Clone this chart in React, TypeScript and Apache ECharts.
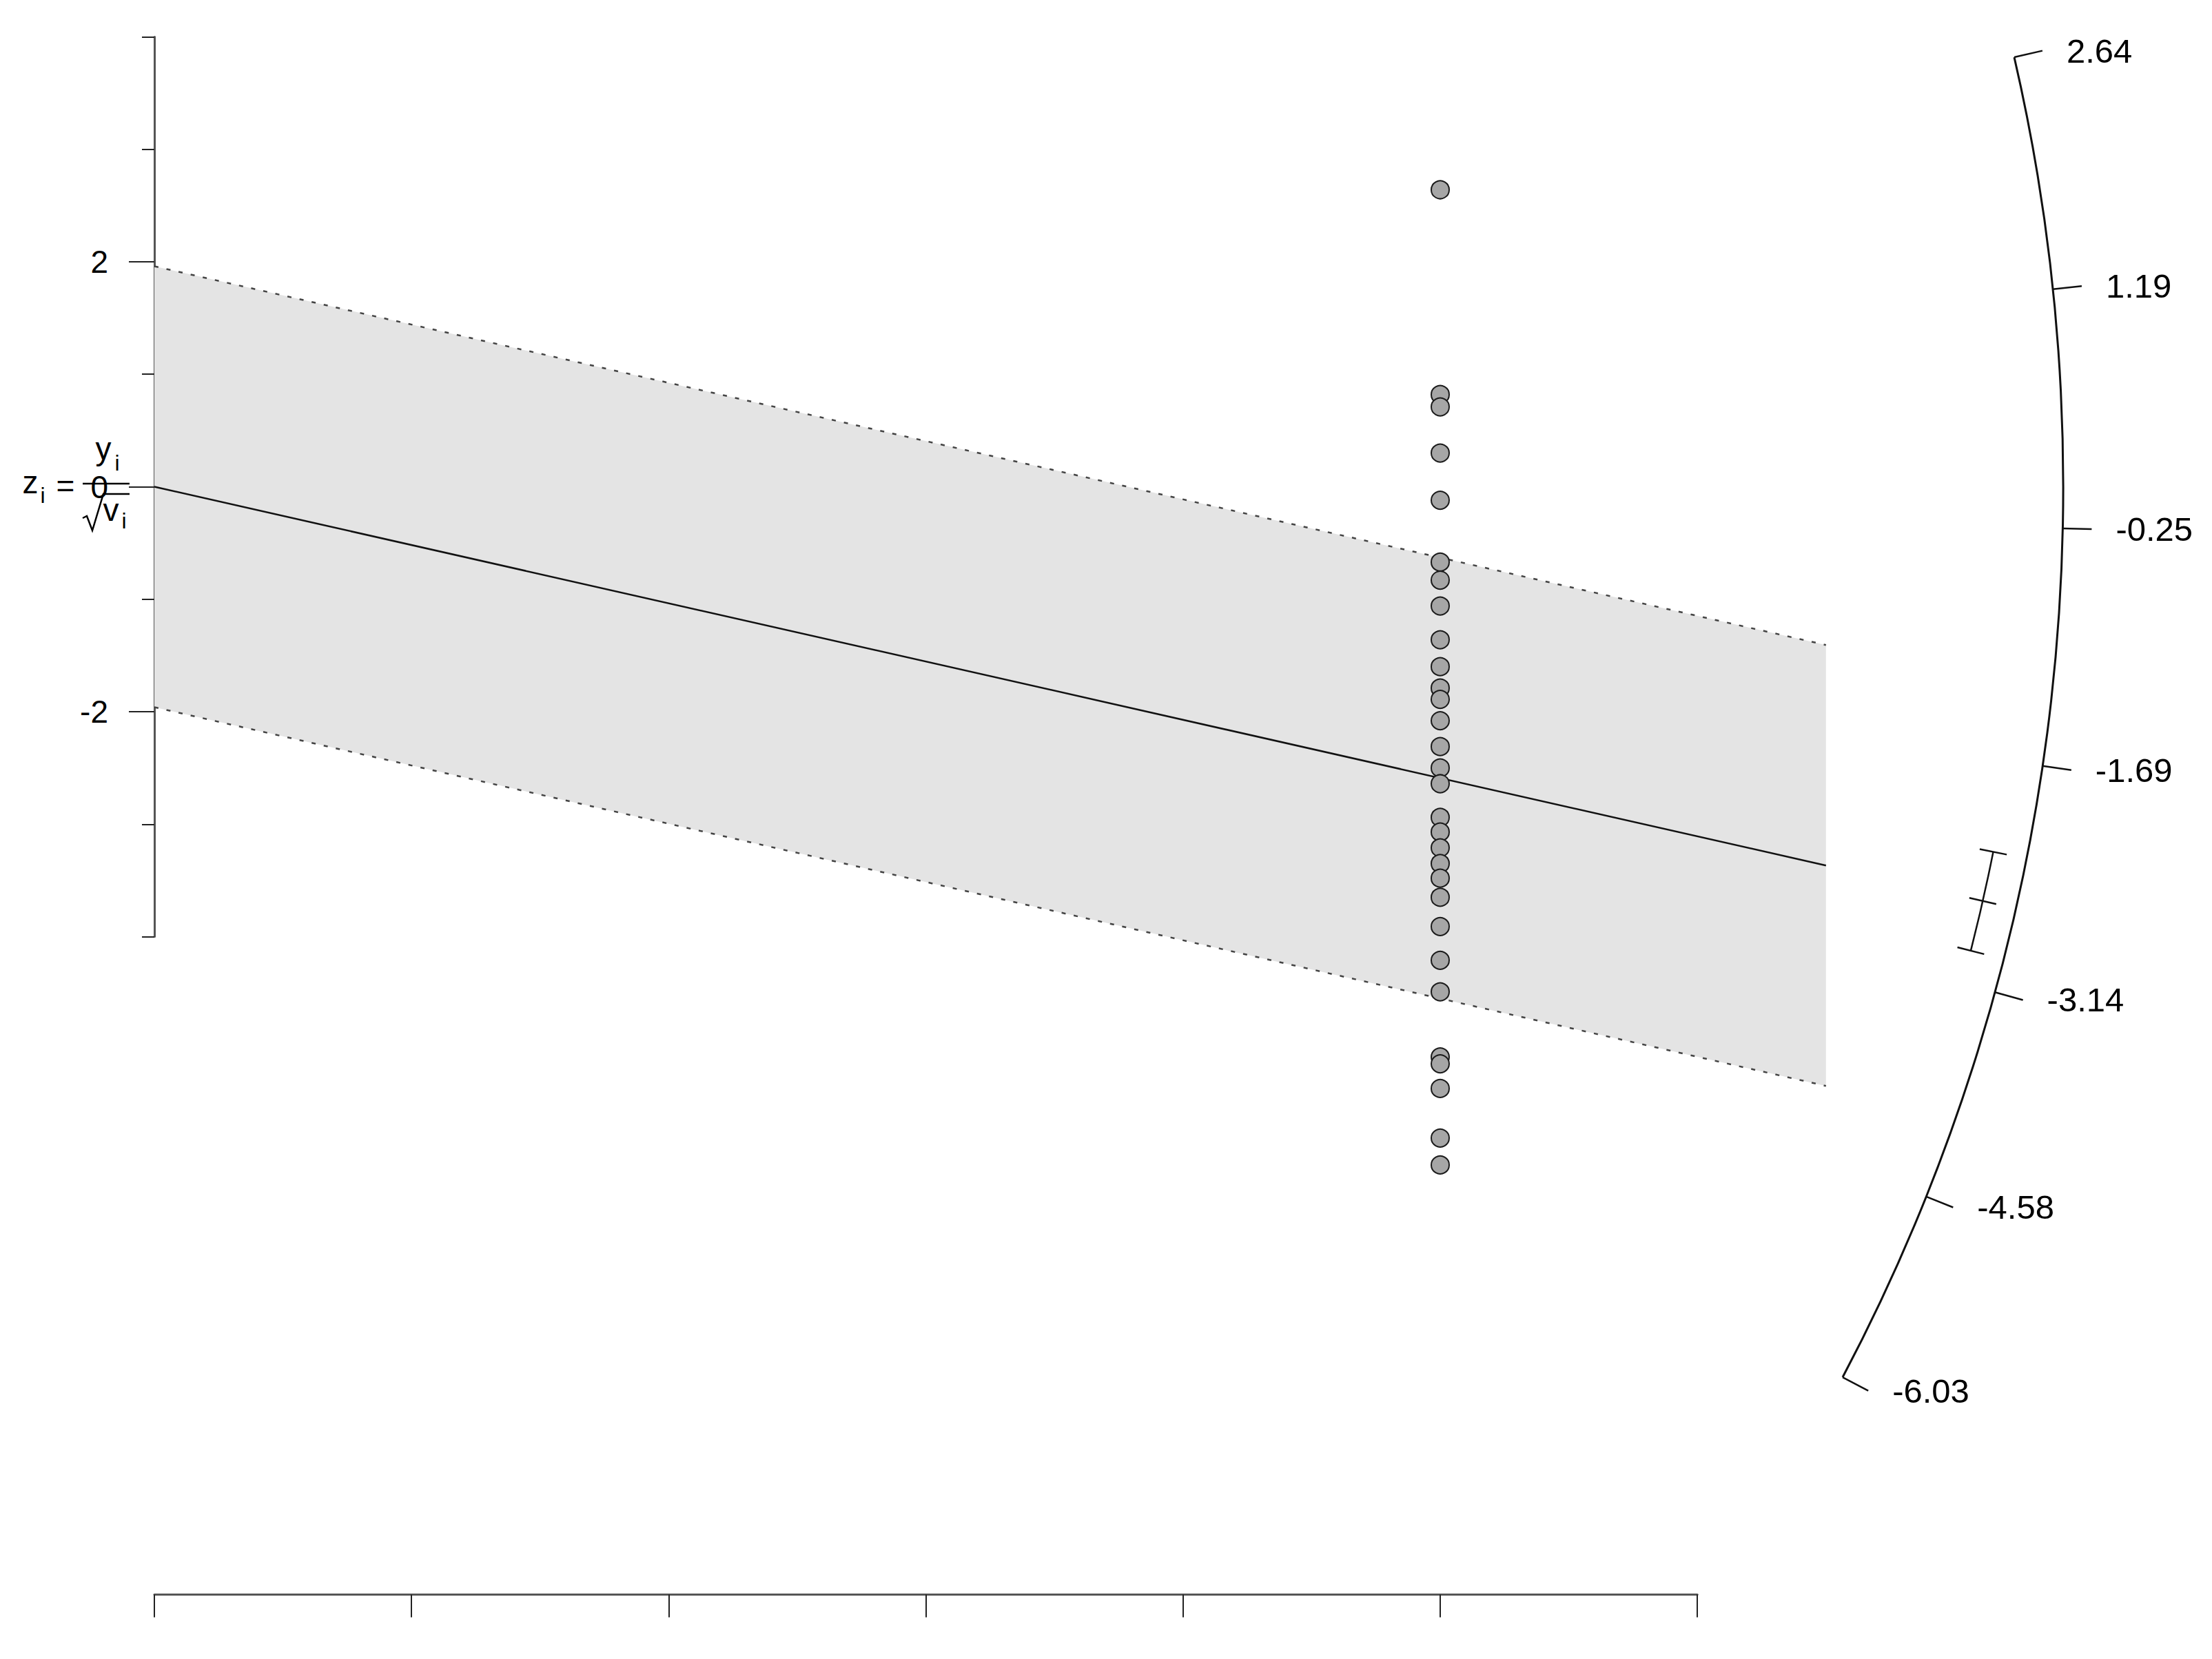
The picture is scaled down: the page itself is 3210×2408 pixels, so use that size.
import React, { useEffect, useRef } from "react";
import * as echarts from "echarts";

// ---- data ----
const STUDY_Z = [
  2.64, 0.82, 0.71, 0.3, -0.12, -0.67, -0.83, -1.06, -1.36, -1.6,
  -1.79, -1.89, -2.08, -2.31, -2.5, -2.64, -2.94, -3.07, -3.21, -3.35,
  -3.48, -3.65, -3.91, -4.21, -4.49, -5.07, -5.13, -5.35, -5.79, -6.03,
];
const STUDY_X = [
  1, 1, 1, 1, 1, 1, 1, 1, 1, 1,
  1, 1, 1, 1, 1, 1, 1, 1, 1, 1,
  1, 1, 1, 1, 1, 1, 1, 1, 1, 1,
];
const ESTIMATE = -2.59;
const CI_LOWER = -2.92;
const CI_UPPER = -2.27;
const Z_CRIT = 1.96;
const X_MAX = 1.3;
const X_TICK_MAX = 1.2;
const X_TICK_STEP = 0.2;
const ARC_TICKS = [-6.03, -4.58, -3.14, -1.69, -0.25, 1.19, 2.64];
const Y_LABEL_MIN = -2;
const Y_LABEL_MAX = 2;
const Y_LABEL_STEP = 2;
const Y_AXIS_MIN = -4;
const Y_AXIS_MAX = 4;

// ---- layout (pixels) ----
const ORIGIN_X = 224;
const ORIGIN_Y = 706.5;
const PX_PER_X = 1866;
const PX_PER_Z = 163.26;
const Z_TOP = 4;
const Z_BOTTOM = -9.85;
const ARC_RADIUS = 1.4845; // in x units
const CI_RADIUS = 1.458; // in x units
const ARC_TICK_LEN = 42;
const ARC_LABEL_GAP = 35;
const CI_CAP = 20;
const FONT = "'Liberation Sans', Arial, Helvetica, sans-serif";
const FS = 46;
const FS_ARC = 49;
const FS_SUB = 32;

function buildOption() {
  const gridTop = ORIGIN_Y - Z_TOP * PX_PER_Z;
  const gridHeight = (Z_TOP - Z_BOTTOM) * PX_PER_Z;
  const axisBottom = gridTop + gridHeight;
  const lineEnd = (z0: number) => [X_MAX, z0 + ESTIMATE * X_MAX];
  const hiddenAxis = (gridIndex: number, min: number, max: number) => ({ gridIndex, type: "value", min, max, show: false });

  return {
    animation: false,
    backgroundColor: "#ffffff",
    grid: [
      { left: ORIGIN_X, top: gridTop, width: X_MAX * PX_PER_X, height: gridHeight },
      { left: ORIGIN_X, top: ORIGIN_Y - Y_AXIS_MAX * PX_PER_Z, width: 10, height: (Y_AXIS_MAX - Y_AXIS_MIN) * PX_PER_Z },
      { left: ORIGIN_X, top: ORIGIN_Y - Y_LABEL_MAX * PX_PER_Z, width: 10, height: (Y_LABEL_MAX - Y_LABEL_MIN) * PX_PER_Z },
      { left: ORIGIN_X, top: axisBottom - 14, width: X_TICK_MAX * PX_PER_X, height: 14 },
    ],
    xAxis: [
      hiddenAxis(0, 0, X_MAX),
      hiddenAxis(1, 0, 1),
      hiddenAxis(2, 0, 1),
      {
        gridIndex: 3, type: "value", min: 0, max: X_TICK_MAX, interval: X_TICK_STEP,
        axisLine: { show: true, lineStyle: { color: "#555", width: 3 } },
        axisTick: { show: true, length: 33, lineStyle: { color: "#222", width: 2 } },
        axisLabel: { show: false },
        splitLine: { show: false },
      },
    ],
    yAxis: [
      hiddenAxis(0, Z_BOTTOM, Z_TOP),
      {
        gridIndex: 1, type: "value", min: Y_AXIS_MIN, max: Y_AXIS_MAX, interval: 1,
        axisLine: { show: true, lineStyle: { color: "#555", width: 3 } },
        axisTick: { show: true, length: 18, lineStyle: { color: "#222", width: 2 } },
        axisLabel: { show: false },
        splitLine: { show: false },
      },
      {
        gridIndex: 2, type: "value", min: Y_LABEL_MIN, max: Y_LABEL_MAX, interval: Y_LABEL_STEP,
        axisLine: { show: false },
        axisTick: { show: true, length: 37, lineStyle: { color: "#222", width: 2 } },
        axisLabel: { show: true, margin: 67, fontSize: FS, fontFamily: FONT, color: "#000" },
        splitLine: { show: false },
      },
      hiddenAxis(3, 0, 1),
    ],
    series: [
      {
        type: "custom", xAxisIndex: 0, yAxisIndex: 0, z: 1, clip: false, silent: true,
        data: [[0, 0]],
        renderItem: (_p: any, api: any) => ({
          type: "polygon",
          shape: {
            points: [api.coord([0, Z_CRIT]), api.coord(lineEnd(Z_CRIT)), api.coord(lineEnd(-Z_CRIT)), api.coord([0, -Z_CRIT])],
          },
          style: { fill: "#E4E4E4" },
        }),
      },
      {
        type: "line", xAxisIndex: 0, yAxisIndex: 0, z: 2, silent: true, showSymbol: false,
        data: [[0, Z_CRIT], lineEnd(Z_CRIT)],
        lineStyle: { color: "#444", width: 2.5, type: [6, 12] },
      },
      {
        type: "line", xAxisIndex: 0, yAxisIndex: 0, z: 2, silent: true, showSymbol: false,
        data: [[0, -Z_CRIT], lineEnd(-Z_CRIT)],
        lineStyle: { color: "#444", width: 2.5, type: [6, 12] },
      },
      {
        type: "line", xAxisIndex: 0, yAxisIndex: 0, z: 3, silent: true, showSymbol: false,
        data: [[0, 0], lineEnd(0)],
        lineStyle: { color: "#111", width: 2.5, type: "solid" },
      },
      {
        type: "scatter", xAxisIndex: 0, yAxisIndex: 0, z: 5, silent: true,
        symbol: "circle", symbolSize: 26,
        itemStyle: { color: "#A6A6A6", borderColor: "#1a1a1a", borderWidth: 2, opacity: 1 },
        data: STUDY_Z.map((z, i) => [STUDY_X[i], z]),
      },
      {
        type: "custom", xAxisIndex: 0, yAxisIndex: 0, z: 4, clip: false, silent: true,
        data: [[0, 0]],
        renderItem: (_p: any, api: any) => {
          const o = api.coord([0, 0]);
          const R = api.size([ARC_RADIUS, 0])[0];
          const Rci = api.size([CI_RADIUS, 0])[0];
          const ang = (v: number) => {
            const p = api.coord([1, v]);
            return Math.atan2(p[1] - o[1], p[0] - o[0]);
          };
          const pt = (a: number, r: number) => [o[0] + r * Math.cos(a), o[1] + r * Math.sin(a)];
          const children: any[] = [];
          children.push({
            type: "arc",
            shape: { cx: o[0], cy: o[1], r: R, startAngle: ang(Math.max(...ARC_TICKS)), endAngle: ang(Math.min(...ARC_TICKS)), clockwise: true },
            style: { stroke: "#111", lineWidth: 3, fill: null },
          });
          ARC_TICKS.forEach((v) => {
            const a = ang(v);
            const p1 = pt(a, R);
            const p2 = pt(a, R + ARC_TICK_LEN);
            children.push({
              type: "line",
              shape: { x1: p1[0], y1: p1[1], x2: p2[0], y2: p2[1] },
              style: { stroke: "#111", lineWidth: 2.5 },
            });
            children.push({
              type: "text",
              style: {
                text: v.toFixed(2), x: p2[0] + ARC_LABEL_GAP, y: p2[1],
                align: "left", verticalAlign: "middle",
                fontSize: FS_ARC, fontFamily: FONT, fill: "#000",
              },
            });
          });
          children.push({
            type: "arc",
            shape: { cx: o[0], cy: o[1], r: Rci, startAngle: ang(CI_UPPER), endAngle: ang(CI_LOWER), clockwise: true },
            style: { stroke: "#111", lineWidth: 2.5, fill: null },
          });
          [CI_UPPER, ESTIMATE, CI_LOWER].forEach((v) => {
            const a = ang(v);
            const p1 = pt(a, Rci - CI_CAP);
            const p2 = pt(a, Rci + CI_CAP);
            children.push({
              type: "line",
              shape: { x1: p1[0], y1: p1[1], x2: p2[0], y2: p2[1] },
              style: { stroke: "#111", lineWidth: 2.5 },
            });
          });
          return { type: "group", children };
        },
      },
    ],
    graphic: {
      elements: [
        { type: "text", x: 44, y: 700, style: { text: "z", fontSize: FS, fontFamily: FONT, fill: "#000", align: "center", verticalAlign: "middle" } },
        { type: "text", x: 62, y: 719, style: { text: "i", fontSize: FS_SUB, fontFamily: FONT, fill: "#000", align: "center", verticalAlign: "middle" } },
        { type: "text", x: 95, y: 705, style: { text: "=", fontSize: FS, fontFamily: FONT, fill: "#000", align: "center", verticalAlign: "middle" } },
        { type: "text", x: 150, y: 651, style: { text: "y", fontSize: FS, fontFamily: FONT, fill: "#000", align: "center", verticalAlign: "middle" } },
        { type: "text", x: 170, y: 672, style: { text: "i", fontSize: FS_SUB, fontFamily: FONT, fill: "#000", align: "center", verticalAlign: "middle" } },
        { type: "line", shape: { x1: 120, y1: 702, x2: 188, y2: 702 }, style: { stroke: "#000", lineWidth: 2.5 } },
        { type: "polyline", shape: { points: [[120, 752], [126, 749], [134, 770], [150, 717], [188, 717]] }, style: { stroke: "#000", lineWidth: 2.5, fill: null } },
        { type: "text", x: 161, y: 740, style: { text: "v", fontSize: FS, fontFamily: FONT, fill: "#000", align: "center", verticalAlign: "middle" } },
        { type: "text", x: 180, y: 756, style: { text: "i", fontSize: FS_SUB, fontFamily: FONT, fill: "#000", align: "center", verticalAlign: "middle" } },
      ],
    },
  };
}

export default function App() {
  const ref = useRef<HTMLDivElement>(null);

  useEffect(() => {
    if (!ref.current) return;
    const chart = echarts.init(ref.current, null, { renderer: "svg" });
    chart.setOption(buildOption() as any);
    return () => chart.dispose();
  }, []);

  return (
    <div
      ref={ref}
      style={{ position: "fixed", left: 0, top: 0, width: 3210, height: 2408, background: "#fff" }}
    />
  );
}
